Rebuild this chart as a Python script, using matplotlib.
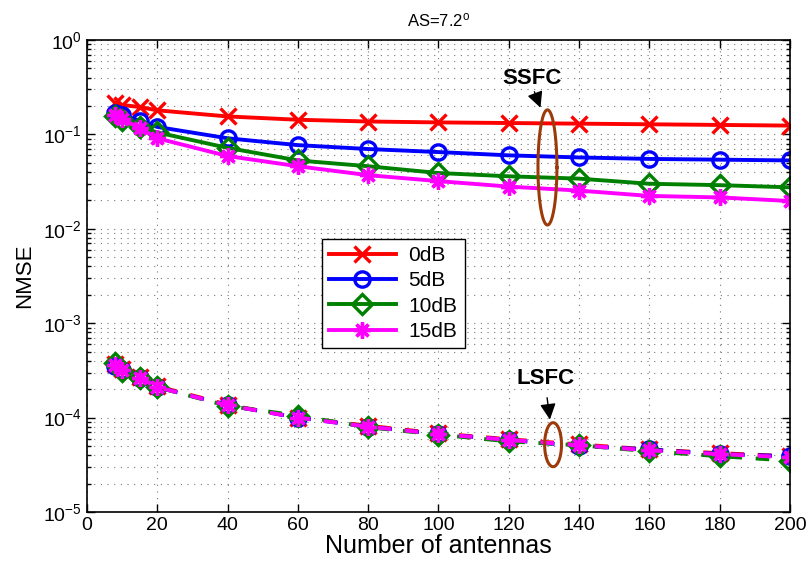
import numpy as np
import matplotlib
matplotlib.use("Agg")
import matplotlib.pyplot as plt
from matplotlib.ticker import LogLocator, NullFormatter

plt.rcParams['font.family'] = ['Liberation Sans', 'DejaVu Sans']
plt.rcParams['mathtext.fontset'] = 'custom'
plt.rcParams['mathtext.rm'] = 'Liberation Sans'
plt.rcParams['mathtext.it'] = 'Liberation Sans:italic'
plt.rcParams['mathtext.bf'] = 'Liberation Sans:bold'

# ---- data ----
antennas = [8, 10, 15, 20, 40, 60, 80, 100, 120, 140, 160, 180, 200]
labels = ['0dB', '5dB', '10dB', '15dB']

ssfc_0dB = [0.215, 0.205, 0.195, 0.180, 0.155, 0.143, 0.137, 0.134, 0.132, 0.130, 0.128, 0.126, 0.124]
ssfc_5dB = [0.170, 0.160, 0.140, 0.120, 0.091, 0.077, 0.070, 0.065, 0.060, 0.057, 0.055, 0.054, 0.053]
ssfc_10dB = [0.157, 0.142, 0.120, 0.105, 0.072, 0.053, 0.046, 0.039, 0.036, 0.034, 0.030, 0.029, 0.0275]
ssfc_15dB = [0.160, 0.145, 0.117, 0.091, 0.059, 0.046, 0.037, 0.032, 0.028, 0.0254, 0.0223, 0.0215, 0.0197]

lsfc_0dB = [3.7e-4, 3.3e-4, 2.7e-4, 2.15e-4, 1.37e-4, 1.0e-4, 8.2e-5, 6.8e-5, 5.9e-5, 5.2e-5, 4.6e-5, 4.2e-5, 3.9e-5]
lsfc_5dB = [3.5e-4, 3.2e-4, 2.65e-4, 2.1e-4, 1.35e-4, 1.0e-4, 8.0e-5, 6.7e-5, 5.8e-5, 5.0e-5, 4.6e-5, 4.1e-5, 3.9e-5]
lsfc_10dB = [3.8e-4, 3.1e-4, 2.6e-4, 2.1e-4, 1.33e-4, 1.05e-4, 7.9e-5, 6.6e-5, 5.6e-5, 5.1e-5, 4.4e-5, 3.9e-5, 3.5e-5]
lsfc_15dB = [3.6e-4, 3.2e-4, 2.65e-4, 2.1e-4, 1.35e-4, 1.0e-4, 8.0e-5, 6.7e-5, 5.8e-5, 5.1e-5, 4.5e-5, 4.1e-5, 3.8e-5]

xticks = list(range(0, 201, 20))

colors = ['#ff0000', '#0000ff', '#008000', '#ff00ff']
markers = ['x', 'o', 'D', (8, 2, 0)]
msizes = [11, 11, 10, 12]

fig = plt.figure(figsize=(8.09, 5.74), dpi=100)
ax = fig.add_axes([0.1075, 0.108, 0.869, 0.8223])

ssfc = [ssfc_0dB, ssfc_5dB, ssfc_10dB, ssfc_15dB]
lsfc = [lsfc_0dB, lsfc_5dB, lsfc_10dB, lsfc_15dB]

for y, c, m, ms, lab in zip(ssfc, colors, markers, msizes, labels):
    ax.plot(antennas, y, color=c, marker=m, markersize=ms, markerfacecolor='none',
            markeredgewidth=2.4, linewidth=2.8, label=lab)
for y, c, m, ms in zip(lsfc, colors, markers, msizes):
    ax.plot(antennas, y, color=c, marker=m, markersize=ms, markerfacecolor='none',
            markeredgewidth=2.4, linewidth=2.8, linestyle=(0, (3.5, 3.5)))

ax.set_yscale('log')
ax.set_xlim(0, 200)
ax.set_ylim(1e-5, 1)
ax.set_xticks(xticks)
ax.yaxis.set_major_locator(LogLocator(base=10, numticks=10))
ax.yaxis.set_minor_locator(LogLocator(base=10, subs=np.arange(2, 10), numticks=20))
ax.yaxis.set_minor_formatter(NullFormatter())

ax.grid(True, which='major', linestyle=(0, (1, 5)), color='#777777', linewidth=0.8)
ax.grid(True, which='minor', axis='y', linestyle=(0, (1, 5)), color='#777777', linewidth=0.8)

ax.tick_params(which='both', direction='in', top=True, right=True, labelsize=14, width=1)
ax.tick_params(which='major', length=6)
ax.tick_params(which='minor', length=3)
for s in ax.spines.values():
    s.set_linewidth(1.2)

ax.set_xlabel('Number of antennas', fontsize=18, labelpad=0)
ax.set_ylabel('NMSE', fontsize=16, labelpad=6)
ax.set_title('AS=7.2$^{\\mathrm{o}}$', fontsize=12, pad=10)

leg = ax.legend(loc='lower left', bbox_to_anchor=(0.334, 0.347), borderaxespad=0,
                fontsize=15, handlelength=3.2, labelspacing=0.3, fancybox=False,
                edgecolor='black', framealpha=1, borderpad=0.35, handletextpad=0.6)
leg.get_frame().set_linewidth(1.0)

# annotations: ellipses drawn in data space
brown = '#9c3a0a'
t = np.linspace(0, 2 * np.pi, 200)
def ellipse(cx, logcy, a, b):
    ax.plot(cx + a * np.cos(t), 10 ** (logcy + b * np.sin(t)), color=brown, linewidth=2.2)

ellipse(131.0, -1.35, 2.7, 0.61)
ellipse(132.6, -4.287, 2.4, 0.233)

ax.text(126.5, 10 ** -0.413, 'SSFC', fontsize=16, fontweight='bold', ha='center', va='center')
ax.text(130.5, 10 ** -3.59, 'LSFC', fontsize=16, fontweight='bold', ha='center', va='center')
ax.annotate('', xy=(129.3, 10 ** -0.745), xytext=(127.0, 10 ** -0.52),
            arrowprops=dict(arrowstyle='-|>', color='black', lw=1.0, mutation_scale=24))
ax.annotate('', xy=(131.8, 10 ** -4.05), xytext=(130.8, 10 ** -3.76),
            arrowprops=dict(arrowstyle='-|>', color='black', lw=1.0, mutation_scale=24))

fig.savefig('out.png', dpi=100)
